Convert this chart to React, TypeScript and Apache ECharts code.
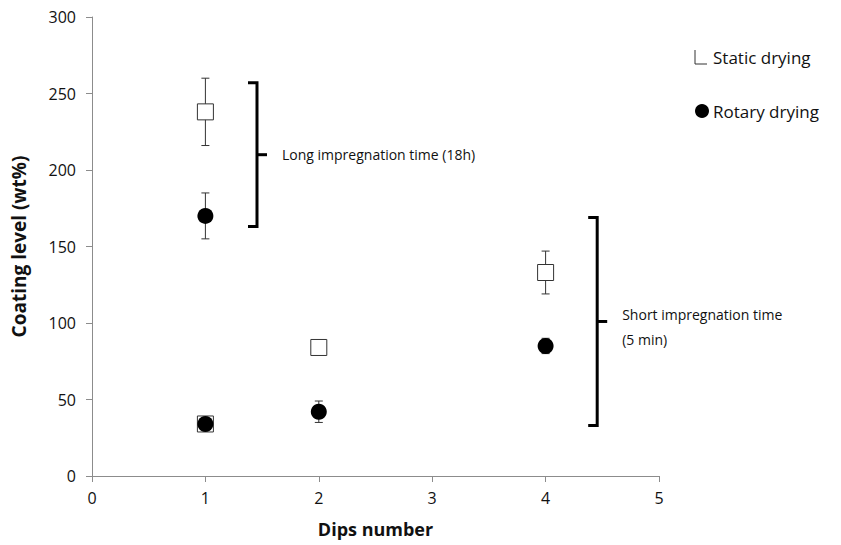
import React, { useEffect, useRef } from "react";
import * as echarts from "echarts";

const xTicks = [0, 1, 2, 3, 4, 5];
const yTicks = [0, 50, 100, 150, 200, 250, 300];

const staticDips = [1, 1, 2, 4];
const staticMeans = [238, 34, 84, 133];
const staticErr = [22, 3, 0, 14];

const rotaryDips = [1, 1, 2, 4];
const rotaryMeans = [170, 34, 42, 85];
const rotaryErr = [15, 4, 7, 5];

const bracketX = [1.455, 4.455];
const bracketLow = [163, 33];
const bracketHigh = [257, 169];
const bracketLabels = ["Long impregnation time (18h)", "Short impregnation time\n(5 min)"];

const FONT = "'Open Sans', 'Noto Sans', sans-serif";

export default function App() {
  const ref = useRef<HTMLDivElement>(null);
  useEffect(() => {
    if (!ref.current) return;
    const chart = echarts.init(ref.current, null, { renderer: "svg" });

    const errData = [
      ...staticDips.map((d, i) => [d, staticMeans[i] - staticErr[i], staticMeans[i] + staticErr[i]]),
      ...rotaryDips.map((d, i) => [d, rotaryMeans[i] - rotaryErr[i], rotaryMeans[i] + rotaryErr[i]]),
    ].filter((r) => r[2] > r[1]);
    const bracketData = bracketX.map((x, i) => [x, bracketLow[i], bracketHigh[i]]);

    const option: any = {
      animation: false,
      backgroundColor: "#fff",
      grid: { left: 92, right: 182, top: 17, bottom: 69, containLabel: false },
      xAxis: {
        type: "value",
        min: xTicks[0],
        max: xTicks[xTicks.length - 1],
        interval: 1,
        name: "Dips number",
        nameLocation: "middle",
        nameGap: 44,
        nameTextStyle: { fontFamily: FONT, fontSize: 18, fontWeight: "bold", color: "#111" },
        axisLine: { show: true, lineStyle: { color: "#8c8c8c", width: 1 } },
        axisTick: { show: true, length: 6, lineStyle: { color: "#8c8c8c" } },
        axisLabel: { fontFamily: FONT, fontSize: 16, color: "#111", margin: 14 },
        splitLine: { show: false },
      },
      yAxis: {
        type: "value",
        min: yTicks[0],
        max: yTicks[yTicks.length - 1],
        interval: 50,
        name: "Coating level (wt%)",
        nameLocation: "middle",
        nameGap: 64,
        nameTextStyle: { fontFamily: FONT, fontSize: 19, fontWeight: "bold", color: "#111" },
        axisLine: { show: true, lineStyle: { color: "#8c8c8c", width: 1 } },
        axisTick: { show: true, length: 6, lineStyle: { color: "#8c8c8c" } },
        axisLabel: { fontFamily: FONT, fontSize: 16, color: "#111", margin: 16 },
        splitLine: { show: false },
      },
      series: [
        {
          type: "custom",
          name: "errors",
          z: 1,
          encode: { x: 0, y: [1, 2] },
          data: errData,
          renderItem: (params: any, api: any) => {
            const x = api.value(0);
            const lo = api.coord([x, api.value(1)]);
            const hi = api.coord([x, api.value(2)]);
            const cap = 4;
            const style = { stroke: "#333", lineWidth: 1 };
            return {
              type: "group",
              children: [
                { type: "line", shape: { x1: lo[0], y1: lo[1], x2: hi[0], y2: hi[1] }, style },
                { type: "line", shape: { x1: hi[0] - cap, y1: hi[1], x2: hi[0] + cap, y2: hi[1] }, style },
                { type: "line", shape: { x1: lo[0] - cap, y1: lo[1], x2: lo[0] + cap, y2: lo[1] }, style },
              ],
            };
          },
        },
        {
          type: "scatter",
          name: "Static drying",
          z: 2,
          symbol: "rect",
          symbolSize: 16,
          itemStyle: { color: "#fff", borderColor: "#333", borderWidth: 1, opacity: 1 },
          data: staticDips.map((d, i) => [d, staticMeans[i]]),
        },
        {
          type: "scatter",
          name: "Rotary drying",
          z: 3,
          symbol: "circle",
          symbolSize: 16,
          itemStyle: { color: "#000", opacity: 1 },
          data: rotaryDips.map((d, i) => [d, rotaryMeans[i]]),
        },
        {
          type: "custom",
          name: "brackets",
          z: 4,
          encode: { x: 0, y: [1, 2] },
          data: bracketData,
          renderItem: (params: any, api: any) => {
            const x = api.value(0);
            const lo = api.coord([x, api.value(1)]);
            const hi = api.coord([x, api.value(2)]);
            const mid = api.coord([x, (api.value(1) + api.value(2)) / 2]);
            const style = { stroke: "#000", lineWidth: 3, fill: "none" };
            return {
              type: "group",
              children: [
                {
                  type: "polyline",
                  shape: { points: [[hi[0] - 9, hi[1]], [hi[0], hi[1]], [lo[0], lo[1]], [lo[0] - 9, lo[1]]] },
                  style,
                },
                { type: "line", shape: { x1: mid[0], y1: mid[1], x2: mid[0] + 10, y2: mid[1] }, style },
                {
                  type: "text",
                  x: mid[0] + 25,
                  y: mid[1] + (params.dataIndex === 1 ? 6 : 0),
                  style: {
                    text: bracketLabels[params.dataIndex],
                    fontFamily: FONT,
                    fontSize: 14,
                    fill: "#111",
                    align: "left",
                    verticalAlign: "middle",
                    lineHeight: 25,
                  },
                },
              ],
            };
          },
        },
      ],
      graphic: [
        {
          type: "polyline",
          shape: { points: [[695, 50], [695, 64], [707, 64]] },
          style: { stroke: "#333", lineWidth: 1, fill: "none" },
        },
        {
          type: "text",
          x: 713,
          y: 57,
          style: { text: "Static drying", fontFamily: FONT, fontSize: 17, fill: "#111", verticalAlign: "middle" },
        },
        { type: "circle", shape: { cx: 702, cy: 111, r: 7 }, style: { fill: "#000" } },
        {
          type: "text",
          x: 713,
          y: 111,
          style: { text: "Rotary drying", fontFamily: FONT, fontSize: 17, fill: "#111", verticalAlign: "middle" },
        },
      ],
    };
    chart.setOption(option);
    return () => chart.dispose();
  }, []);
  return <div ref={ref} style={{ width: 841, height: 545, position: "absolute", left: 0, top: 0 }} />;
}
